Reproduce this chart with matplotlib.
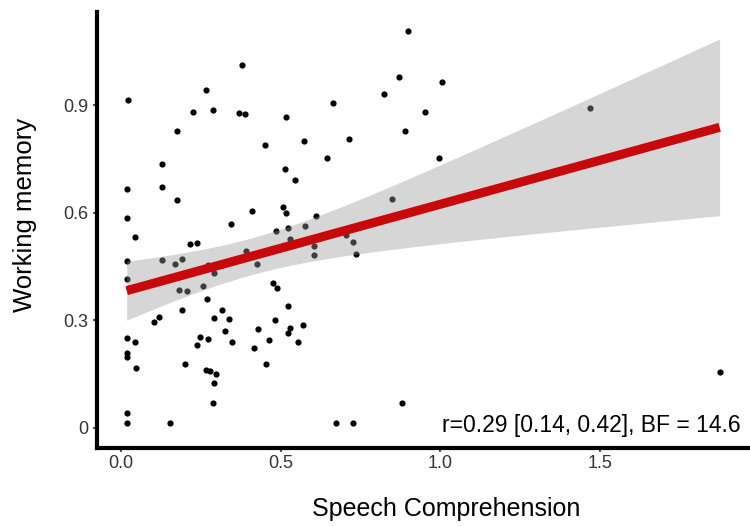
import numpy as np
import matplotlib
matplotlib.use('Agg')
import matplotlib.pyplot as plt

speech = [0.021, 0.379, 0.266, 0.226, 0.287, 0.368, 0.387, 0.517, 0.174, 0.452,
          0.573, 0.128, 0.514, 0.128, 0.545, 0.018, 0.175, 0.409, 0.508, 0.517,
          0.018, 0.044, 0.344, 0.215, 0.238, 0.018, 0.129, 0.169, 0.190, 0.391,
          0.427, 0.485, 0.524, 0.530, 0.577, 0.274, 0.290, 0.018, 0.120, 0.024,
          0.183, 0.207, 0.258, 0.476, 0.489, 0.270, 0.190, 0.522, 0.315, 0.102,
          0.120, 0.290, 0.337, 0.483, 0.018, 0.044, 0.248, 0.272, 0.325, 0.429,
          0.530, 0.524, 0.570, 0.237, 0.348, 0.415, 0.463, 0.555, 0.018, 0.018,
          0.046, 0.200, 0.453, 0.267, 0.279, 0.297, 0.290, 0.287, 0.018, 0.018,
          0.154, 0.900, 0.869, 1.006, 0.822, 0.663, 0.952, 0.888, 0.713, 0.646,
          0.994, 0.610, 0.849, 0.604, 0.603, 0.704, 0.725, 0.735, 0.881, 0.674,
          0.727, 1.469, 1.874]
wm = [0.915, 1.011, 0.943, 0.881, 0.885, 0.878, 0.875, 0.867, 0.827, 0.789,
      0.799, 0.735, 0.723, 0.672, 0.691, 0.666, 0.636, 0.604, 0.617, 0.598,
      0.584, 0.532, 0.568, 0.512, 0.516, 0.464, 0.468, 0.456, 0.470, 0.494,
      0.456, 0.548, 0.556, 0.526, 0.564, 0.455, 0.431, 0.416, 0.411, 0.391,
      0.383, 0.381, 0.396, 0.403, 0.390, 0.360, 0.328, 0.339, 0.330, 0.294,
      0.310, 0.306, 0.304, 0.302, 0.250, 0.239, 0.253, 0.247, 0.270, 0.275,
      0.279, 0.265, 0.288, 0.230, 0.240, 0.222, 0.246, 0.239, 0.210, 0.197,
      0.168, 0.178, 0.178, 0.161, 0.160, 0.150, 0.125, 0.069, 0.041, 0.013,
      0.013, 1.106, 0.978, 0.964, 0.932, 0.907, 0.881, 0.827, 0.806, 0.752,
      0.753, 0.592, 0.638, 0.508, 0.482, 0.537, 0.518, 0.485, 0.069, 0.013,
      0.013, 0.892, 0.157]

xticks = [0.0, 0.5, 1.0, 1.5]
xtick_labels = ['0.0', '0.5', '1.0', '1.5']
yticks = [0.0, 0.3, 0.6, 0.9]
ytick_labels = ['0', '0.3', '0.6', '0.9']
stat_text = 'r=0.29 [0.14, 0.42], BF = 14.6'

# linear fit with 95% confidence band (like geom_smooth(method='lm'))
x = np.array(speech)
y = np.array(wm)
n = len(x)
slope, icpt = np.polyfit(x, y, 1)
resid = y - (icpt + slope * x)
s = np.sqrt(np.sum(resid ** 2) / (n - 2))
xg = np.linspace(x.min(), x.max(), 100)
yg = icpt + slope * xg
se = s * np.sqrt(1 / n + (xg - x.mean()) ** 2 / np.sum((x - x.mean()) ** 2))
tval = 1.984

plt.rcParams['font.family'] = ['Liberation Sans', 'DejaVu Sans']

fig = plt.figure(figsize=(7.5, 5.26), dpi=100)
ax = fig.add_axes([0.1293, 0.1483, 0.8707, 0.8287])
ax.scatter(x, y, s=20, color='black', linewidths=0, zorder=2)
ax.fill_between(xg, yg - tval * se, yg + tval * se, color='#999999', alpha=0.4,
                linewidth=0, zorder=3)
ax.plot(xg, yg, color='#C8090C', linewidth=6.5, solid_capstyle='butt', zorder=4)

ax.set_xlim(-0.075, 1.969)
ax.set_ylim(-0.056, 1.159)
ax.set_xticks(xticks)
ax.set_xticklabels(xtick_labels)
ax.set_yticks(yticks)
ax.set_yticklabels(ytick_labels)

for side in ['top', 'right']:
    ax.spines[side].set_visible(False)
for side in ['left', 'bottom']:
    ax.spines[side].set_linewidth(3)
    ax.spines[side].set_color('black')
ax.tick_params(length=3, width=1.5, color='#555555', labelsize=13,
               labelcolor='#333333')
ax.tick_params(axis='x', pad=2)
ax.tick_params(axis='y', pad=3)

ax.set_xlabel('Speech Comprehension', fontsize=18)
ax.set_ylabel('Working memory', fontsize=18.5)
# the original panel looks cropped on the right/top, so titles sit off-centre
ax.xaxis.set_label_coords(0.534, -0.112)
ax.yaxis.set_label_coords(-0.092, 0.534)

ax.text(0.985, 0.025, stat_text, transform=ax.transAxes, ha='right', va='bottom',
        fontsize=16.5, zorder=5)

fig.savefig('out.png', dpi=100)
